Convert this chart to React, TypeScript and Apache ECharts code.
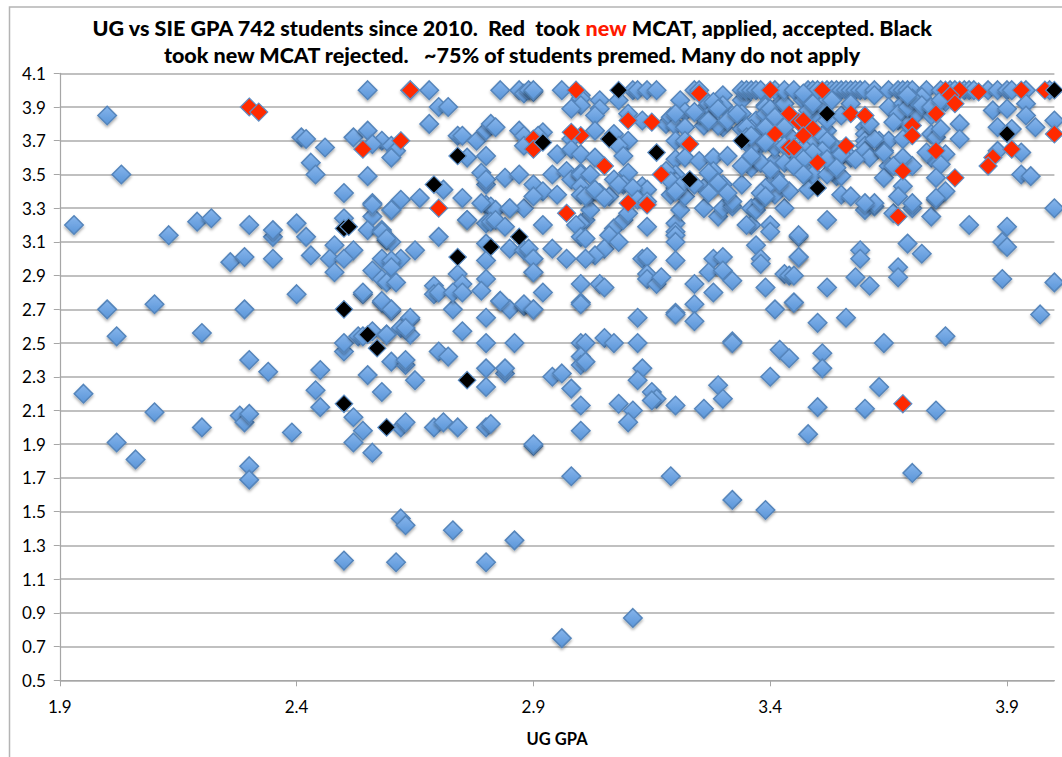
import React, { useEffect, useRef } from "react";
import * as echarts from "echarts";

type P = [number, number];

const xTicks = [1.9, 2.4, 2.9, 3.4, 3.9];
const yTicks = [0.5, 0.7, 0.9, 1.1, 1.3, 1.5, 1.7, 1.9, 2.1, 2.3, 2.5, 2.7, 2.9, 3.1, 3.3, 3.5, 3.7, 3.9, 4.1];

const blueLow: P[] = [
  [1.95,2.2],[2.0,2.7],[2.1,2.73],[2.29,2.7],[2.4,2.79],[2.02,2.54],[2.2,2.56],[2.3,2.4],[2.34,2.33],[2.45,2.34],[2.44,2.22],[2.45,2.12],
  [2.1,2.09],[2.2,2.0],[2.02,1.91],[2.06,1.81],[2.28,2.07],[2.29,2.03],[2.3,2.08],[2.39,1.97],[2.3,1.77],[2.3,1.69],
  [2.5,2.45],[2.5,2.5],[2.53,2.54],[2.54,2.54],[2.56,2.57],[2.59,2.55],[2.64,2.64],[2.62,2.59],[2.64,2.55],[2.58,2.74],[2.6,2.69],[2.54,2.79],
  [2.6,2.39],[2.63,2.37],[2.63,2.4],[2.55,2.31],[2.65,2.28],[2.58,2.21],[2.52,2.06],[2.54,1.98],[2.52,1.91],[2.56,1.85],[2.62,2.0],[2.63,2.03],
  [2.69,2.0],[2.71,2.03],[2.74,2.0],[2.8,2.0],[2.81,2.02],[2.7,2.45],[2.72,2.42],[2.75,2.57],[2.73,2.7],[2.8,2.65],[2.8,2.5],[2.86,2.5],[2.8,2.35],
  [2.84,2.32],[2.84,2.35],[2.8,2.24],[2.62,1.46],[2.63,1.42],[2.73,1.39],[2.86,1.33],[2.5,1.21],[2.61,1.2],[2.8,1.2],[2.83,2.75],[2.85,2.7],[2.88,2.72],
  [2.9,1.89],[2.9,1.9],
];

const blueLeftUpper: P[] = [
  [2.0,3.85],[2.03,3.5],[1.93,3.2],[2.13,3.14],[2.19,3.22],[2.22,3.24],[2.3,3.2],[2.35,3.13],[2.35,3.17],[2.26,2.98],[2.29,3.01],[2.35,3.0],[2.4,3.21],
  [2.42,3.13],[2.43,3.02],[2.41,3.72],[2.42,3.71],[2.46,3.66],[2.43,3.57],[2.44,3.5],[2.52,3.72],[2.55,3.76],[2.55,4.0],[2.64,4.0],[2.68,4.0],[2.7,3.9],
  [2.72,3.9],[2.68,3.8],[2.58,3.7],[2.56,3.68],[2.6,3.67],[2.61,3.64],[2.6,3.6],[2.55,3.49],[2.5,3.39],[2.56,3.33],[2.62,3.35],[2.6,3.29],[2.66,3.36],
  [2.71,3.41],[2.76,3.6],[2.74,3.73],[2.75,3.73],[2.78,3.7],[2.8,3.76],[2.81,3.8],[2.82,3.78],[2.8,3.61],[2.79,3.51],[2.8,3.44],[2.8,3.47],[2.84,3.48],[2.87,3.5],
  [2.83,4.0],[2.87,4.0],[2.88,3.98],[2.89,4.0],[2.87,3.76],[2.88,3.73],[2.88,3.67],[2.75,3.36],[2.76,3.23],[2.8,3.32],[2.81,3.31],[2.82,3.29],[2.85,3.3],[2.88,3.3],
  [2.8,3.21],[2.81,3.22],[2.82,3.23],[2.84,3.19],[2.8,3.09],[2.85,3.06],[2.88,3.05],[2.8,2.99],[2.7,3.13],[2.74,2.91],[2.75,2.85],[2.8,2.88],[2.69,2.84],[2.69,2.79],
  [2.7,2.8],[2.73,2.8],[2.75,2.8],[2.79,2.81],[2.5,3.24],[2.56,3.25],[2.55,3.17],[2.58,3.17],[2.59,3.11],[2.6,3.1],[2.65,3.05],[2.62,3.0],[2.58,3.0],[2.6,2.99],[2.6,2.95],
  [2.48,3.08],[2.52,3.05],[2.47,3.0],[2.5,3.0],[2.48,2.92],[2.56,2.93],[2.58,2.88],[2.59,2.86],[2.61,2.86],[2.54,2.8],[2.58,2.75],[2.6,2.7],[2.76,3.23],[2.79,3.33],
  [2.85,3.3],[2.89,3.06],[2.9,3.0],[2.9,2.92],[2.83,2.75],[2.88,2.73],[2.9,2.7],[2.64,2.65],[2.63,2.59],[2.59,2.55],[2.56,3.32],[2.6,3.29],[2.58,3.16],[2.59,3.12],
];

const blueCenterTop: P[] = [
  [2.9,3.99],[2.9,4.0],[2.96,4.0],[3.0,3.97],[3.0,3.95],[3.0,3.91],[2.98,3.89],[3.04,3.94],[3.04,3.89],[3.03,3.85],[3.08,3.94],[3.11,4.0],[3.12,4.0],[3.14,4.0],[3.16,4.0],
  [3.1,3.86],[3.13,3.82],[3.18,3.8],[3.21,3.94],[3.22,3.87],[3.19,3.84],[3.2,3.79],[3.22,3.78],[3.24,4.0],[3.25,4.0],[3.26,3.79],[3.25,3.86],[3.27,3.92],[3.3,3.97],[3.3,3.91],
  [3.28,3.88],[3.3,3.78],[3.29,3.79],[3.34,3.94],[3.34,3.86],[3.32,3.85],[3.34,4.0],[3.35,4.0],[3.36,4.0],[3.37,4.0],[3.38,4.0],[3.42,3.92],[3.39,3.91],[3.39,3.9],
  [3.37,3.82],[3.36,3.77],[3.34,3.77],[3.38,3.76],[3.4,3.79],[3.44,3.73],[3.2,3.7],[3.22,3.7],[2.98,3.71],[3.03,3.76],[3.07,3.74],[3.1,3.7],[3.08,3.67],[3.09,3.61],
  [2.92,3.75],[2.91,3.73],[2.95,3.62],[2.98,3.65],[3.0,3.62],[3.03,3.6],[2.94,3.5],[2.97,3.52],[2.98,3.47],[3.0,3.51],[3.0,3.5],[3.02,3.5],[3.0,3.43],[3.02,3.38],[3.04,3.39],
  [3.07,3.47],[3.1,3.51],[3.09,3.44],[3.13,3.43],[3.14,3.41],[2.9,3.44],[2.92,3.4],[2.95,3.38],[2.9,3.37],[3.06,3.37],[3.2,3.59],[3.22,3.6],[3.25,3.58],[3.28,3.6],[3.31,3.61],
  [3.28,3.52],[3.2,3.5],[3.2,3.46],[3.2,3.42],[3.19,3.38],[3.22,3.37],[3.26,3.42],[3.3,3.44],[3.28,3.42],[3.32,3.34],[3.34,3.44],[3.36,3.54],[3.37,3.6],[3.41,3.58],[3.41,3.66],
  [3.38,3.68],[3.36,3.66],[3.41,3.49],[3.4,3.44],[3.41,3.38],[3.38,3.34],[3.44,3.4],
  [3.2,3.86],[3.24,3.87],[3.27,3.82],[3.28,3.93],[3.29,3.89],[3.31,3.82],[3.33,3.86],[3.35,3.78],[3.39,3.86],[3.4,3.89],[3.43,3.92],[3.41,3.84],[3.39,3.78],[3.43,3.78],
  [3.35,3.72],[3.36,3.73],[3.39,3.69],[3.43,3.67],[3.45,3.65],[3.45,3.57],[3.43,3.57],[3.38,3.57],[3.36,3.61],[3.34,3.55],[3.4,3.53],[3.42,3.45],[3.39,3.42],[3.38,3.39],[3.39,3.37],
  [3.18,3.52],[3.19,3.46],[3.21,3.43],[3.2,3.4],[3.24,3.44],[3.27,3.51],[3.29,3.45],[3.31,3.39],[3.27,3.39],[3.0,3.38],[3.01,3.37],[3.03,3.41],[3.05,3.36],[3.08,3.44],[3.11,3.42],[3.12,3.35],[3.14,3.34],
];

const blueRightTop: P[] = [
  [3.41,4.0],[3.43,4.0],[3.45,4.0],[3.48,4.0],[3.49,4.0],[3.5,4.0],[3.52,4.0],[3.53,4.0],[3.54,4.0],[3.55,4.0],[3.56,4.0],[3.57,4.0],[3.58,4.0],[3.59,4.0],[3.6,4.0],[3.62,4.0],
  [3.65,4.0],[3.67,4.0],[3.68,4.0],[3.69,4.0],[3.7,4.0],[3.73,4.0],[3.76,4.0],[3.78,4.0],[3.79,4.0],[3.81,4.0],[3.82,4.0],[3.83,4.0],[3.86,4.0],[3.88,4.0],[3.9,4.0],[3.91,4.0],
  [3.94,4.0],[3.99,4.0],[3.47,3.94],[3.49,3.89],[3.49,3.85],[3.55,3.85],[3.52,3.76],[3.53,3.68],[3.49,3.68],[3.47,3.66],[3.46,3.62],[3.54,3.58],[3.57,3.6],[3.6,3.78],[3.6,3.74],
  [3.6,3.7],[3.6,3.67],[3.6,3.64],[3.61,3.6],[3.65,3.9],[3.63,3.7],[3.65,3.7],[3.64,3.64],[3.65,3.55],[3.67,3.82],[3.69,3.8],[3.68,3.71],[3.68,3.92],[3.7,3.92],[3.71,3.86],[3.74,3.85],
  [3.74,3.74],[3.75,3.72],[3.74,3.6],[3.77,3.62],[3.76,3.56],[3.7,3.55],[3.64,3.48],[3.68,3.43],[3.75,3.48],[3.77,3.4],[3.75,3.36],[3.67,3.37],[3.7,3.33],[3.8,3.8],[3.8,3.71],[3.87,3.88],
  [3.9,3.89],[3.88,3.78],[3.91,3.77],[3.88,3.64],[3.93,3.63],[3.94,3.92],[3.94,3.85],[3.96,3.78],[4.0,3.82],[3.93,3.5],[3.95,3.49],[3.54,3.49],[3.55,3.49],[3.47,3.54],[3.49,3.5],[3.52,3.5],
  [3.48,3.41],[3.55,3.38],[3.57,3.37],[3.62,3.33],[3.6,3.33],[3.57,3.92],[3.52,3.93],[3.47,3.98],[3.62,3.97],[3.72,3.96],[3.77,3.93],
  [3.48,3.88],[3.51,3.91],[3.49,3.92],[3.53,3.94],[3.52,3.82],[3.51,3.73],[3.52,3.7],[3.51,3.64],[3.49,3.63],[3.47,3.59],[3.45,3.55],[3.47,3.5],[3.52,3.59],[3.55,3.62],[3.54,3.54],[3.58,3.59],
  [3.64,3.63],[3.62,3.71],[3.61,3.8],[3.67,3.86],[3.66,3.81],[3.69,3.9],[3.7,3.95],[3.69,3.97],[3.72,3.91],[3.74,3.9],[3.76,3.94],[3.73,3.63],[3.76,3.77],[3.68,3.6],[3.66,3.55],
];

const blueMiddle: P[] = [
  [2.92,3.2],[3.01,3.23],[3.0,3.21],[2.99,3.2],[3.0,3.13],[3.01,3.12],[3.07,3.18],[3.06,3.14],[3.05,3.06],[3.08,3.1],[3.03,3.02],[3.01,3.0],[3.09,3.23],[3.1,3.27],[3.02,3.29],[3.14,3.19],
  [3.2,3.21],[3.2,3.16],[3.2,3.14],[3.2,3.1],[3.2,2.99],[3.21,3.29],[3.26,3.3],[3.29,3.25],[3.3,3.3],[3.32,3.31],[3.36,3.3],[3.36,3.2],[3.35,3.2],[3.37,3.29],[3.4,3.2],[3.4,3.16],[3.43,3.3],
  [3.37,3.08],[3.38,3.0],[3.38,2.97],[3.46,3.13],[2.94,3.06],[2.9,3.0],[2.97,3.0],[2.9,2.92],[2.92,2.8],[2.9,2.7],[3.0,2.85],[3.04,2.85],[3.05,2.83],[3.0,2.74],[3.0,2.73],[3.12,2.65],
  [3.13,3.0],[3.14,3.01],[3.14,2.91],[3.14,2.88],[3.16,2.85],[3.17,2.89],[3.2,2.68],[3.2,2.67],[3.24,2.85],[3.24,2.73],[3.24,2.63],[3.28,2.8],[3.28,3.0],[3.3,3.01],[3.27,2.92],[3.3,2.93],
  [3.32,2.87],[3.39,2.83],[3.41,2.7],[3.45,2.74],[3.43,2.91],[3.44,2.9],[3.46,3.01],
  [4.0,3.3],[3.52,3.23],[3.6,3.29],[3.62,3.31],[3.66,3.27],[3.7,3.3],[3.74,3.25],[3.75,3.35],[3.82,3.2],[3.9,3.19],[3.89,3.1],[3.9,3.07],[3.46,3.14],[3.46,3.01],[3.59,3.05],[3.59,3.0],
  [3.69,3.09],[3.72,3.03],[3.45,2.9],[3.58,2.89],[3.61,2.84],[3.67,2.95],[3.67,2.89],[3.52,2.83],[3.89,2.88],[4.0,2.86],[3.45,2.74],[3.56,2.65],[3.5,2.62],[3.97,2.67],[3.77,2.54],
  [3.0,2.5],[3.01,2.5],[3.05,2.53],[3.07,2.5],[3.12,2.5],[3.32,2.51],[3.32,2.5],[3.42,2.46],[3.44,2.41],[3.51,2.44],[3.51,2.35],[3.64,2.5],[3.0,2.42],[3.0,2.37],[3.01,2.39],[2.94,2.3],[2.96,2.32],
  [2.98,2.23],[3.13,2.35],[3.12,2.28],[3.29,2.25],[3.3,2.17],[3.4,2.3],[3.63,2.24],[3.0,2.13],[3.08,2.14],[3.11,2.1],[3.1,2.03],[3.15,2.21],[3.16,2.17],[3.15,2.16],[3.2,2.13],[3.26,2.11],
  [3.5,2.12],[3.6,2.11],[3.75,2.1],[3.48,1.96],[3.0,1.98],[2.98,1.71],[3.19,1.71],[3.7,1.73],[3.32,1.57],[3.39,1.51],[3.11,0.87],[2.96,0.75],
];

const redPoints: P[] = [
  [2.3,3.9],[2.32,3.87],[2.64,4.0],[2.54,3.65],[2.62,3.7],[2.7,3.3],[2.99,4.0],[3.1,3.82],[3.15,3.81],[3.25,3.98],[3.4,4.0],[3.44,3.86],[3.46,3.81],[3.41,3.74],[3.44,3.66],[3.23,3.68],
  [3.17,3.5],[3.05,3.55],[3.0,3.73],[2.98,3.75],[2.9,3.71],[2.9,3.65],[2.97,3.27],[3.1,3.33],[3.14,3.32],[3.51,4.0],[3.77,4.0],[3.8,4.0],[3.78,3.97],[3.79,3.92],[3.84,3.99],[3.93,4.0],[3.98,4.0],
  [3.57,3.86],[3.6,3.85],[3.47,3.82],[3.49,3.77],[3.47,3.73],[3.45,3.66],[3.56,3.67],[3.5,3.57],[3.68,3.52],[3.7,3.79],[3.7,3.73],[3.75,3.86],[3.75,3.64],[3.79,3.48],[3.87,3.6],[3.86,3.55],
  [3.91,3.65],[4.0,3.74],[3.67,3.25],[3.68,2.14],
];

const blackPoints: P[] = [
  [2.5,2.7],[2.5,2.14],[2.55,2.55],[2.57,2.47],[2.59,2.0],[2.76,2.28],[2.69,3.44],[2.74,3.61],[2.74,3.01],[2.5,3.18],[2.51,3.19],[2.81,3.07],[2.87,3.13],[2.92,3.69],[3.08,4.0],[3.06,3.71],
  [3.16,3.63],[3.23,3.47],[3.34,3.7],[3.52,3.86],[3.5,3.42],[3.9,3.74],[4.0,4.0],
];

const bluePoints: P[] = [...blueLow, ...blueLeftUpper, ...blueMiddle, ...blueCenterTop, ...blueRightTop];

export default function App() {
  const ref = useRef<HTMLDivElement>(null);
  useEffect(() => {
    const chart = echarts.init(ref.current!, undefined, { renderer: "svg" });
    const font = "Lato";
    chart.setOption({
      animation: false,
      backgroundColor: "#ffffff",
      title: {
        left: 507,
        textAlign: "center",
        top: 9,
        text: "{b|UG vs SIE GPA 742 students since 2010.  Red  took }{r|new}{b| MCAT, applied, accepted. Black}\n{b|took new MCAT rejected.   ~75% of students premed. Many do not apply}",
        textStyle: {
          rich: {
            b: { fontFamily: font, fontWeight: 900, fontSize: 21.5, color: "#000000", lineHeight: 27 },
            r: { fontFamily: font, fontWeight: 900, fontSize: 21.5, color: "#ff1a00", lineHeight: 27 },
          },
        },
      },
      graphic: [
        { type: "polyline", silent: true, shape: { points: [[9.5, 757], [9.5, 7], [1062, 7]] }, style: { stroke: "#b4b4b4", lineWidth: 1.5, fill: "none" } },
      ],
      grid: { left: 59.8, right: 7.6, top: 73.3, bottom: 76.7 },
      xAxis: {
        type: "value",
        min: 1.9,
        max: 4.0,
        name: "UG GPA",
        nameLocation: "middle",
        nameGap: 50,
        nameTextStyle: { fontFamily: font, fontWeight: "bold", fontSize: 16.5, color: "#000" },
        axisLine: { show: true, lineStyle: { color: "#a6a6a6", width: 1.2 } },
        axisTick: { show: true, length: 6, customValues: xTicks, lineStyle: { color: "#a6a6a6" } },
        axisLabel: { customValues: xTicks, margin: 18, fontFamily: font, fontSize: 17, color: "#000", formatter: (v: number) => v.toFixed(1) },
        splitLine: { show: false },
      },
      yAxis: {
        type: "value",
        min: 0.5,
        max: 4.1,
        axisLine: { show: true, lineStyle: { color: "#a6a6a6", width: 1.2 } },
        axisTick: { show: true, length: 6, customValues: yTicks, lineStyle: { color: "#a6a6a6" } },
        axisLabel: { customValues: yTicks, margin: 14, fontFamily: font, fontSize: 17, color: "#000", formatter: (v: number) => v.toFixed(1) },
        splitLine: { show: true, lineStyle: { color: "#ababab", width: 1.5 } },
      },
      series: [
        {
          type: "scatter",
          name: "All students",
          clip: false,
          symbol: "diamond",
          symbolSize: 18.5,
          data: bluePoints,
          itemStyle: {
            color: new echarts.graphic.LinearGradient(0, 0, 0, 1, [
              { offset: 0, color: "#86b5ec" },
              { offset: 1, color: "#5a95d8" },
            ]),
            borderColor: "#5585bb",
            borderWidth: 1.5,
            opacity: 1,
            shadowColor: "rgba(0,0,0,0.35)",
            shadowBlur: 3,
            shadowOffsetY: 2,
          },
        },
        {
          type: "scatter",
          name: "Applied and accepted",
          clip: false,
          symbol: "diamond",
          symbolSize: 18,
          data: redPoints,
          itemStyle: { color: "#ff2a00", borderColor: "#5e8fc6", borderWidth: 1.2, opacity: 1 },
        },
        {
          type: "scatter",
          name: "Rejected",
          clip: false,
          symbol: "diamond",
          symbolSize: 17.5,
          data: blackPoints,
          itemStyle: { color: "#000000", borderColor: "#5e8fc6", borderWidth: 1.2, opacity: 1 },
        },
      ],
    });
    return () => chart.dispose();
  }, []);
  return <div ref={ref} style={{ position: "fixed", left: 0, top: 0, width: 1062, height: 757 }} />;
}
